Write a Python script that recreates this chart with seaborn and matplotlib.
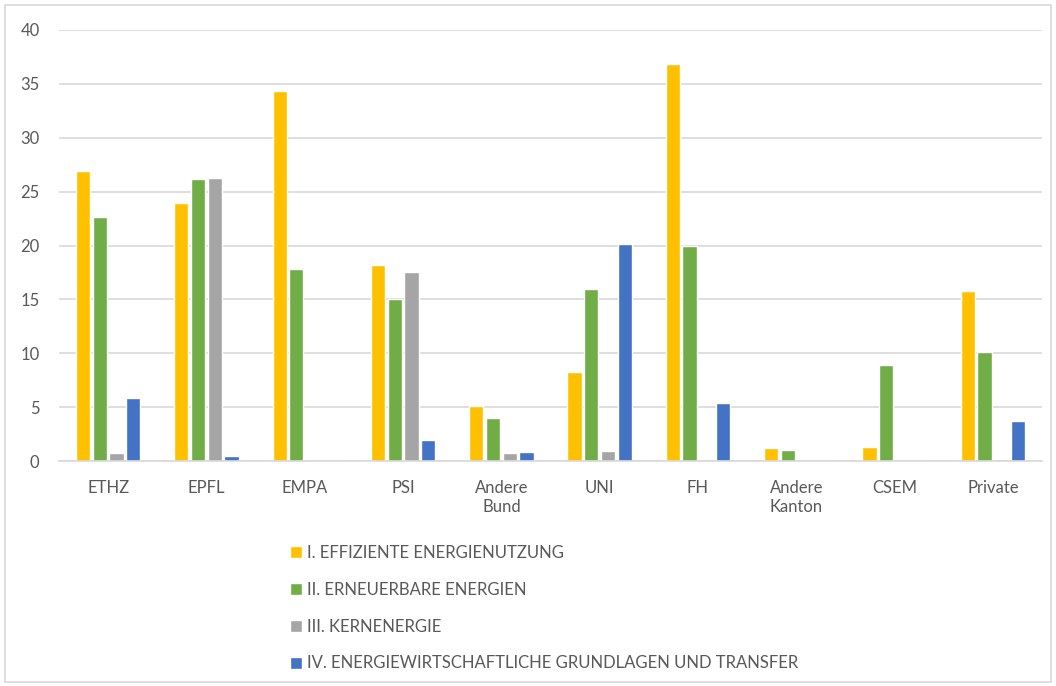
import pandas as pd
import numpy as np
import matplotlib
matplotlib.use('Agg')
import matplotlib.pyplot as plt
import seaborn as sns
from matplotlib.patches import Rectangle

institutions = ['ETHZ', 'EPFL', 'EMPA', 'PSI', 'Andere\nBund', 'UNI', 'FH',
                'Andere\nKanton', 'CSEM', 'Private']
series_names = ['I. EFFIZIENTE ENERGIENUTZUNG',
                'II. ERNEUERBARE ENERGIEN',
                'III. KERNENERGIE',
                'IV. ENERGIEWIRTSCHAFTLICHE GRUNDLAGEN UND TRANSFER']
effizient = [26.9, 23.9, 34.3, 18.2, 5.1, 8.25, 36.8, 1.2, 1.3, 15.8]
erneuerbar = [22.6, 26.2, 17.8, 15.0, 4.0, 16.0, 20.0, 1.0, 8.9, 10.1]
kern = [0.7, 26.3, 0.0, 17.5, 0.7, 0.9, 0.0, 0.0, 0.0, 0.2]
grundlagen = [5.85, 0.5, 0.0, 1.95, 0.8, 20.1, 5.4, 0.0, 0.0, 3.7]
colors = ['#FFC000', '#70AD47', '#A5A5A5', '#4472C4']

rows = []
for name, vals in zip(series_names, [effizient, erneuerbar, kern, grundlagen]):
    for inst, v in zip(institutions, vals):
        rows.append({'inst': inst, 'serie': name, 'wert': v})
df = pd.DataFrame(rows)

sns.set_style('white')
plt.rcParams['font.family'] = ['Lato', 'DejaVu Sans']
text_col = '#595959'

fig = plt.figure(figsize=(10.56, 6.86), dpi=100)
ax = fig.add_axes([59 / 1056, 1 - 461 / 686, 983 / 1056, 431 / 686])

sns.barplot(data=df, x='inst', y='wert', hue='serie', palette=colors,
            width=0.68, gap=0.15, ax=ax, legend=True, errorbar=None,
            saturation=1)

ax.set_ylim(0, 40)
ax.set_yticks(range(0, 41, 5))
ax.set_xlim(-0.5, len(institutions) - 0.5)
ax.yaxis.grid(True, color='#D9D9D9', linewidth=1.2)
ax.set_axisbelow(True)
for s in ['top', 'right', 'left']:
    ax.spines[s].set_visible(False)
ax.spines['bottom'].set_color('#D9D9D9')
ax.spines['bottom'].set_linewidth(1.2)
ax.tick_params(axis='both', length=0, labelsize=12, colors=text_col)
ax.tick_params(axis='x', pad=14)
ax.tick_params(axis='y', pad=14)
ax.set_xlabel('')
ax.set_ylabel('')

handles, labels = ax.get_legend_handles_labels()
ax.get_legend().remove()
fig.legend(handles, labels, loc='upper left', bbox_to_anchor=(275 / 1056, 1 - 530 / 686),
           frameon=False, fontsize=12, labelcolor=text_col, handlelength=0.7,
           handleheight=0.7, handletextpad=0.3, labelspacing=1.25)

fig.patches.append(Rectangle((5 / 1056, 4 / 686), 1046 / 1056, 677 / 686,
                             transform=fig.transFigure, fill=False,
                             edgecolor='#D9D9D9', linewidth=1.2))

fig.savefig('out.png', dpi=100)
